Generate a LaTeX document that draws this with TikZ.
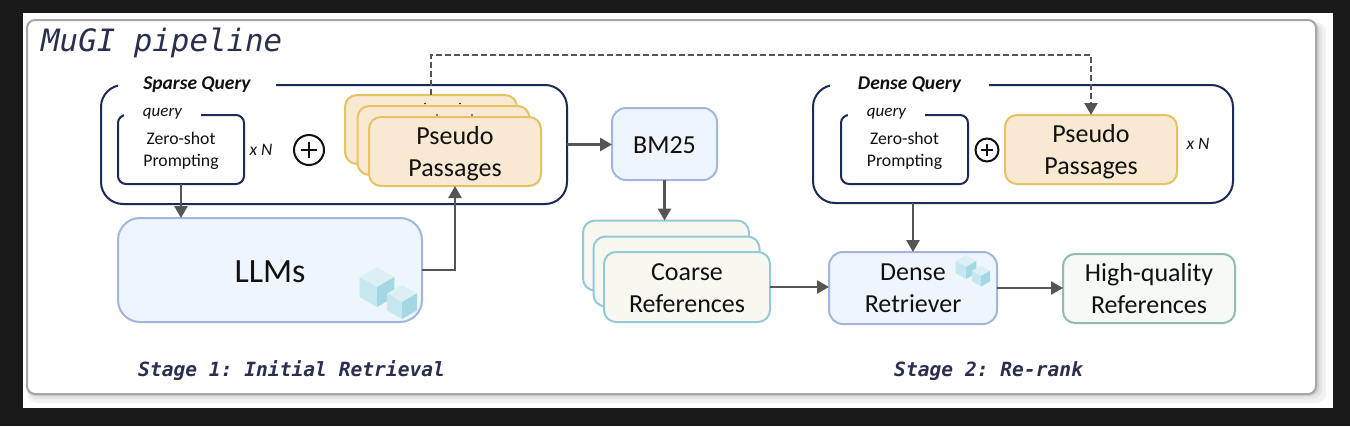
\documentclass[tikz,border=0pt]{standalone}
\usepackage{fontspec}
\setmainfont{Carlito}
\newfontfamily\codefont{DejaVu Sans Mono}
\usetikzlibrary{arrows.meta,calc}
\definecolor{pagebg}{HTML}{1A1A1A}
\definecolor{navy}{HTML}{1B2A58}
\definecolor{flowgray}{HTML}{555555}
\definecolor{inkdark}{HTML}{111111}
\definecolor{codeink}{HTML}{2B2F4F}
\definecolor{paperline}{HTML}{A6A6A6}
\definecolor{goldline}{HTML}{E3C363}
\definecolor{goldfill}{HTML}{F9E9D3}
\definecolor{blueline}{HTML}{A2B6DD}
\definecolor{bluefill}{HTML}{EFF5FD}
\definecolor{tealline}{HTML}{94CAD8}
\definecolor{tealfill}{HTML}{F8F8F1}
\definecolor{greenline}{HTML}{93BBAC}
\definecolor{greenfill}{HTML}{F5FAF6}
\definecolor{cubetop}{HTML}{DCF0F4}
\definecolor{cubeleft}{HTML}{C6E7EF}
\definecolor{cuberight}{HTML}{A4D8E4}
\newcommand{\fsz}[2]{\fontsize{#1}{#2}\selectfont}
\newcommand{\dn}[2]{\raisebox{-#1pt}[\height][\depth]{\begin{tabular}{@{}c@{}}#2\end{tabular}}}
\newcommand{\cubeicon}[3]{%
  \fill[cubetop] ($(#1,#2)+(0,-#3)$) -- ++(.87*#3,.5*#3) -- ++(-.87*#3,.5*#3) -- ++(-.87*#3,-.5*#3) -- cycle;
  \fill[cubeleft] ($(#1,#2)+(-.87*#3,-.5*#3)$) -- ++(.87*#3,.5*#3) -- ++(0,#3) -- ++(-.87*#3,-.5*#3) -- cycle;
  \fill[cuberight] (#1,#2) -- ++(.87*#3,-.5*#3) -- ++(0,#3) -- ++(-.87*#3,.5*#3) -- cycle;
}
\tikzset{
  x=1pt,y=-1pt,
  basebox/.style={draw,line width=2pt,inner sep=0pt,outer sep=0pt,align=center,text=inkdark},
  groupbox/.style={basebox,draw=navy,fill=white,rounded corners=22pt},
  querybox/.style={basebox,draw=navy,fill=white,rounded corners=8pt,font=\fsz{17.7}{22}},
  goldbox/.style={basebox,draw=goldline,fill=goldfill,rounded corners=12pt,font=\fsz{26}{32},minimum width=172pt,minimum height=69pt},
  bluebox/.style={basebox,draw=blueline,fill=bluefill,font=\fsz{26}{32}},
  tealbox/.style={basebox,draw=tealline,fill=tealfill,rounded corners=12pt,font=\fsz{26}{32},minimum width=166pt,minimum height=70pt},
  greenbox/.style={basebox,draw=greenline,fill=greenfill,rounded corners=12pt,font=\fsz{26}{32}},
  grouplabel/.style={fill=white,inner sep=0pt,outer sep=0pt,minimum height=22pt,text=inkdark,font=\fsz{19.5}{22}\bfseries\itshape},
  querylabel/.style={fill=white,inner sep=0pt,outer sep=0pt,minimum height=18pt,text=inkdark,font=\fsz{17}{20}\itshape},
  timeslabel/.style={inner sep=0pt,text=inkdark,font=\fsz{17.5}{20}\itshape},
  plussign/.style={circle,draw=inkdark,line width=2pt,inner sep=0pt,outer sep=0pt},
  flow/.style={draw=flowgray,line width=2.6pt,-{Triangle[length=12pt,width=13pt]}},
  flowdash/.style={flow,line width=2.2pt,dash pattern=on 6pt off 3pt},
  stagetext/.style={inner sep=0pt,text=codeink,font=\frenchspacing\codefont\fsz{19.6}{22}\bfseries\itshape},
}
\begin{document}
\begin{tikzpicture}
\useasboundingbox (0,0) rectangle (1350,426);
\fill[pagebg] (0,0) rectangle (1350,426);
\fill[white] (23,13) rectangle (1333,408);
% card shadow
\fill[black!5,rounded corners=10pt] (27,22) rectangle (1326,403);
\fill[black!10,rounded corners=10pt] (27,22) rectangle (1322,399);
\fill[black!20,rounded corners=9pt] (27,22) rectangle (1319,396);
\draw[paperline,line width=2pt,fill=white,rounded corners=8pt] (27,20) rectangle (1316,394);
\node[anchor=base west,inner sep=0pt,text=codeink,font=\codefont\fsz{30.8}{34}\itshape] (title) at (41,51) {MuGI pipeline};

% Sparse query group
\node[groupbox,minimum width=466pt,minimum height=119pt] (sparse) at (334,144.5) {};
\node[grouplabel,minimum width=158pt] (sparselabel) at (197,83) {\raisebox{-2pt}[\height][\depth]{Sparse Query}};
\node[querybox,minimum width=126pt,minimum height=69pt] (qa) at (181,149.5) {\dn{1.5}{Zero-shot\\Prompting}};
\node[querylabel,minimum width=77pt] (qalabel) at (162.5,111) {\raisebox{-3pt}[\height][\depth]{query}};
\node[timeslabel] (na) at (261,150) {x N};
\node[plussign,minimum size=30pt] (pa) at (309,150) {};
\draw[inkdark,line width=2pt] (pa.center) ++(-8,0) -- ++(16,0) (pa.center) ++(0,-8) -- ++(0,16);
\node[goldbox] (pb) at (431,129.5) {};
\node[goldbox] (pm) at (443.5,140.5) {};
\fill[inkdark] (425,103.5) circle (.8pt) (460,103.5) circle (.8pt) (437,115) circle (.8pt) (472,115) circle (.8pt);
\node[goldbox] (pf) at (455,151.5) {\dn{3}{Pseudo\\Passages}};

% LLM
\node[bluebox,rounded corners=22pt,minimum width=304pt,minimum height=104pt,font=\fsz{34}{38}] (llm) at (270,270) {\raisebox{-2pt}[\height][\depth]{LLMs}};
\cubeicon{377}{287}{20}
\cubeicon{402}{302}{17}

% BM25
\node[bluebox,rounded corners=14pt,minimum width=105pt,minimum height=72pt] (bm) at (664.5,144) {\raisebox{-1pt}[\height][\depth]{BM25}};

% Coarse references
\node[tealbox] (cb) at (666,255.5) {};
\node[tealbox] (cm) at (676.5,271.5) {};
\node[tealbox] (cf) at (687,287) {\dn{3}{Coarse\\References}};

% Dense query group
\node[groupbox,minimum width=420pt,minimum height=118pt] (dense) at (1023,144) {};
\node[grouplabel,minimum width=159pt] (denselabel) at (909.5,83) {\raisebox{-2pt}[\height][\depth]{Dense Query}};
\node[querybox,minimum width=127pt,minimum height=69pt] (qb) at (904.5,149.5) {\dn{1.5}{Zero-shot\\Prompting}};
\node[querylabel,minimum width=77pt] (qblabel) at (886.5,111) {\raisebox{-3pt}[\height][\depth]{query}};
\node[plussign,minimum size=23pt] (pc) at (987,150) {};
\draw[inkdark,line width=1.6pt] (pc.center) ++(-6,0) -- ++(12,0) (pc.center) ++(0,-6) -- ++(0,12);
\node[goldbox] (dp) at (1091,149.5) {\dn{3}{Pseudo\\Passages}};
\node[timeslabel] (nb) at (1198,144) {x N};

% Retriever and output
\node[bluebox,rounded corners=14pt,minimum width=168pt,minimum height=72pt] (dr) at (913,288) {Dense\\Retriever};
\cubeicon{966}{267}{12}
\cubeicon{981}{276}{10.5}
\node[greenbox,minimum width=172pt,minimum height=69pt] (hq) at (1149,288.5) {High-quality\\References};

% Stage captions
\node[stagetext,anchor=base west] (s1) at (138,376) {Stage 1: Initial Retrieval};
\node[stagetext,anchor=base west] (s2) at (894,376) {Stage 2: Re-rank};

% Connectors
\draw[flow] (qa.south) -- (qa.south |- llm.north);
\draw[flow] (llm.east) -| (pf.south);
\draw[flow] (sparse.east) -- (sparse.east -| bm.west);
\draw[flow] (bm.south) -- (bm.south |- cb.north);
\draw[flow] (cf.east) -- (cf.east -| dr.west);
\draw[flow] (dr.north |- dense.south) -- (dr.north);
\draw[flow] (dr.east) -- (dr.east -| hq.west);
\draw[flowdash] (pb.north) -- ++(0,-40) -| (dp.north);
\end{tikzpicture}
\end{document}
